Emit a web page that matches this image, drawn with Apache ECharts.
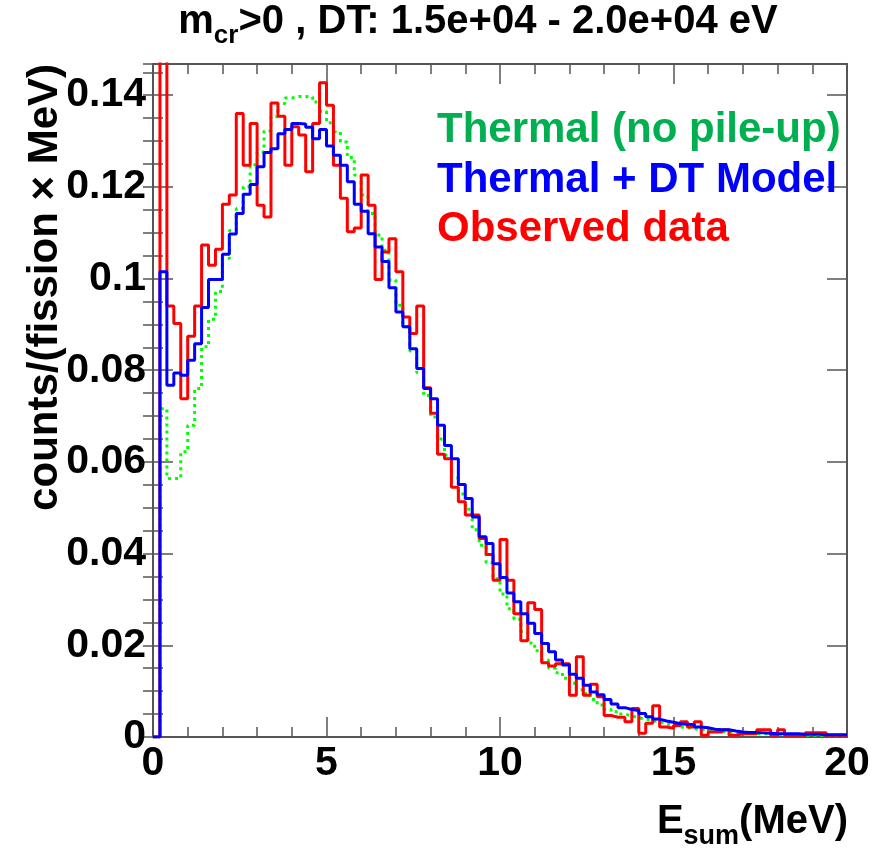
<!DOCTYPE html>
<html>
<head>
<meta charset="utf-8">
<script src="https://cdn.jsdelivr.net/npm/echarts@6/dist/echarts.min.js"></script>
<style>
html,body{margin:0;padding:0;background:#fff;}
#chart{width:878px;height:849px;}
</style>
</head>
<body>
<div id="chart"></div>
<script>
// Histogram: 100 bins of 0.2 MeV from 0 to 20 MeV
const binLowEdges = [
  0.0,0.2,0.4,0.6,0.8,1.0,1.2,1.4,1.6,1.8,2.0,2.2,2.4,2.6,2.8,3.0,3.2,3.4,3.6,3.8,
  4.0,4.2,4.4,4.6,4.8,5.0,5.2,5.4,5.6,5.8,6.0,6.2,6.4,6.6,6.8,7.0,7.2,7.4,7.6,7.8,
  8.0,8.2,8.4,8.6,8.8,9.0,9.2,9.4,9.6,9.8,10.0,10.2,10.4,10.6,10.8,11.0,11.2,11.4,11.6,11.8,
  12.0,12.2,12.4,12.6,12.8,13.0,13.2,13.4,13.6,13.8,14.0,14.2,14.4,14.6,14.8,15.0,15.2,15.4,15.6,15.8,
  16.0,16.2,16.4,16.6,16.8,17.0,17.2,17.4,17.6,17.8,18.0,18.2,18.4,18.6,18.8,19.0,19.2,19.4,19.6,19.8
];
const lastEdge = 20.0;

// Thermal (no pile-up)
const thermal = [
  0, 0.0716, 0.0564, 0.0564, 0.0622, 0.0680, 0.0760, 0.0851, 0.0911, 0.0972,
  0.1044, 0.1105, 0.1153, 0.1200, 0.1248, 0.1276, 0.1322, 0.1353, 0.1382, 0.1394,
  0.1397, 0.1397, 0.1396, 0.1385, 0.1365, 0.1340, 0.1320, 0.1298, 0.1264, 0.1226,
  0.1182, 0.1142, 0.1095, 0.1062, 0.0997, 0.0942, 0.0895, 0.0842, 0.0795, 0.0745,
  0.0698, 0.0650, 0.0615, 0.0565, 0.0530, 0.0497, 0.0452, 0.0418, 0.0380, 0.0345,
  0.0312, 0.0280, 0.0257, 0.0230, 0.0205, 0.0188, 0.0168, 0.0150, 0.0140, 0.0128,
  0.0117, 0.0103, 0.0095, 0.0082, 0.0070, 0.0060, 0.0055, 0.0050, 0.0046, 0.0042,
  0.0039, 0.0036, 0.0033, 0.0029, 0.0025, 0.0022, 0.0020, 0.0018, 0.0016, 0.0014,
  0.0013, 0.0012, 0.0011, 0.0010, 0.0009, 0.0008, 0.0007, 0.0007, 0.0006, 0.0006,
  0.0005, 0.0005, 0.0005, 0.0004, 0.0004, 0.0004, 0.0003, 0.0003, 0.0003, 0.0003
];

// Thermal + DT Model
const model = [
  0, 0.1015, 0.0767, 0.0794, 0.0789, 0.0822, 0.0858, 0.0937, 0.0998, 0.0998,
  0.1053, 0.1097, 0.1142, 0.1184, 0.1205, 0.1244, 0.1275, 0.1283, 0.1316, 0.1325,
  0.1338, 0.1337, 0.1330, 0.1305, 0.1325, 0.1289, 0.1269, 0.1247, 0.1211, 0.1162,
  0.1147, 0.1098, 0.1069, 0.1037, 0.0980, 0.0927, 0.0895, 0.0847, 0.0804, 0.0760,
  0.0738, 0.0680, 0.0636, 0.0607, 0.0551, 0.0520, 0.0480, 0.0437, 0.0422, 0.0378,
  0.0348, 0.0314, 0.0295, 0.0269, 0.0248, 0.0226, 0.0204, 0.0186, 0.0168, 0.0157,
  0.0137, 0.0128, 0.0113, 0.0098, 0.0092, 0.0082, 0.0072, 0.0064, 0.0060, 0.0058,
  0.0051, 0.0044, 0.0039, 0.0035, 0.0032, 0.0029, 0.0028, 0.0027, 0.0022, 0.0020,
  0.0017, 0.0016, 0.0016, 0.0013, 0.0011, 0.0010, 0.0010, 0.0009, 0.0008, 0.0007,
  0.0007, 0.0007, 0.0007, 0.0006, 0.0006, 0.0006, 0.0005, 0.0005, 0.0005, 0.0005
];

// Observed data
const observed = [
  0, 0.2000, 0.0940, 0.0902, 0.0738, 0.0874, 0.0940, 0.1073, 0.1029, 0.1064,
  0.1162, 0.1182, 0.1360, 0.1247, 0.1338, 0.1160, 0.1134, 0.1383, 0.1354, 0.1247,
  0.1331, 0.1313, 0.1233, 0.1338, 0.1427, 0.1378, 0.1247, 0.1175, 0.1102, 0.1110,
  0.1226, 0.1160, 0.0998, 0.1058, 0.1087, 0.1015, 0.0916, 0.0880, 0.0940, 0.0762,
  0.0706, 0.0617, 0.0607, 0.0545, 0.0513, 0.0484, 0.0484, 0.0433, 0.0398, 0.0342,
  0.0431, 0.0342, 0.0269, 0.0210, 0.0293, 0.0278, 0.0162, 0.0155, 0.0160, 0.0160,
  0.0091, 0.0175, 0.0091, 0.0115, 0.0088, 0.0047, 0.0043, 0.0043, 0.0033, 0.0062,
  0.0008, 0.0030, 0.0068, 0.0022, 0.0019, 0.0025, 0.0033, 0.0022, 0.0033, 0.0004,
  0.0011, 0.0011, 0.0016, 0.0004, 0.0007, 0.0007, 0.0007, 0.0016, 0.0016, 0.0004,
  0.0016, 0.0004, 0.0004, 0.0004, 0.0009, 0.0009, 0.0009, 0.0004, 0.0004, 0.0004
];

const xTicks = [0, 5, 10, 15, 20];
const yTicks = [0, 0.02, 0.04, 0.06, 0.08, 0.1, 0.12, 0.14];

const titleMain = ">0 , DT: 1.5e+04 - 2.0e+04 eV";
const yTitle = "counts/(fission \u00d7 MeV)";
const legendTexts = ["Thermal (no pile-up)", "Thermal + DT Model", "Observed data"];

function histPoints(vals) {
  const pts = binLowEdges.map((e, i) => [e, vals[i]]);
  pts.push([lastEdge, vals[vals.length - 1]]);
  return pts;
}

const FONT = "'Liberation Sans', Arial, Helvetica, sans-serif";
const FRAME = '#555555';
const YMAX = 0.1468;

const chart = echarts.init(document.getElementById('chart'), null, {renderer: 'canvas'});

const baseX = {
  type: 'value', min: 0, max: 20, interval: 5,
  axisLine: {show: true, onZero: false, lineStyle: {color: FRAME, width: 2}},
  splitLine: {show: false}
};
const baseY = {
  type: 'value', min: 0, max: YMAX,
  axisLine: {show: true, onZero: false, lineStyle: {color: FRAME, width: 2}},
  splitLine: {show: false}
};

const option = {
  animation: false,
  backgroundColor: '#ffffff',
  grid: {left: 153, right: 31, top: 64, bottom: 112, containLabel: false},
  xAxis: [
    Object.assign({}, baseX, {
      position: 'bottom',
      axisTick: {show: true, inside: true, length: 20, lineStyle: {color: FRAME, width: 1.5}},
      minorTick: {show: true, splitNumber: 5, length: 10, lineStyle: {color: FRAME, width: 1.5}},
      axisLabel: {show: true, margin: 6, color: '#000', fontSize: 41, fontWeight: 'bold', fontFamily: FONT,
        formatter: v => (xTicks.indexOf(v) >= 0 ? String(v) : '')}
    }),
    Object.assign({}, baseX, {
      position: 'top',
      axisTick: {show: true, inside: true, length: 20, lineStyle: {color: FRAME, width: 1.5}},
      minorTick: {show: true, splitNumber: 5, length: 10, lineStyle: {color: FRAME, width: 1.5}},
      axisLabel: {show: false}
    })
  ],
  yAxis: [
    Object.assign({}, baseY, {
      position: 'left', interval: 0.02,
      axisTick: {show: true, inside: true, length: 20, lineStyle: {color: FRAME, width: 1.5}},
      axisLabel: {show: true, margin: 7, color: '#000', fontSize: 41, fontWeight: 'bold', fontFamily: FONT,
        showMaxLabel: false,
        formatter: v => {
          const r = Math.round(v * 100) / 100;
          return yTicks.indexOf(r) >= 0 && Math.abs(v - r) < 1e-6 ? String(r) : '';
        }}
    }),
    Object.assign({}, baseY, {
      position: 'left', interval: 0.005,
      axisLine: {show: false},
      axisTick: {show: true, inside: true, length: 10, lineStyle: {color: FRAME, width: 1.5}},
      axisLabel: {show: false}
    }),
    Object.assign({}, baseY, {
      position: 'right', interval: 0.02,
      axisTick: {show: true, inside: true, length: 20, lineStyle: {color: FRAME, width: 1.5}},
      axisLabel: {show: false}
    }),
    Object.assign({}, baseY, {
      position: 'right', interval: 0.005,
      axisLine: {show: false},
      axisTick: {show: true, inside: true, length: 10, lineStyle: {color: FRAME, width: 1.5}},
      axisLabel: {show: false}
    })
  ],
  series: [
    {
      name: legendTexts[0], type: 'line', step: 'end', xAxisIndex: 0, yAxisIndex: 0,
      data: histPoints(thermal), symbol: 'none', clip: true, z: 3,
      lineStyle: {color: '#00ff00', width: 3, type: [3, 4]}
    },
    {
      name: legendTexts[2], type: 'line', step: 'end', xAxisIndex: 0, yAxisIndex: 0,
      data: histPoints(observed), symbol: 'none', clip: true, z: 4,
      lineStyle: {color: '#ff0000', width: 3}
    },
    {
      name: legendTexts[1], type: 'line', step: 'end', xAxisIndex: 0, yAxisIndex: 0,
      data: histPoints(model), symbol: 'none', clip: true, z: 5,
      lineStyle: {color: '#0000ff', width: 3}
    }
  ],
  graphic: [
    {
      type: 'text', x: 478, y: 22, z: 100,
      style: {
        text: '{a|m}{s|cr}{a|' + titleMain + '}',
        align: 'center', verticalAlign: 'middle',
        rich: {
          a: {fontSize: 40, fontWeight: 'bold', fontFamily: FONT, fill: '#000', lineHeight: 48, verticalAlign: 'middle'},
          s: {fontSize: 26, fontWeight: 'bold', fontFamily: FONT, fill: '#000', lineHeight: 54, verticalAlign: 'bottom'}
        }
      }
    },
    {
      type: 'text', x: 848, y: 822, z: 100,
      style: {
        text: '{a|E}{s|sum}{a|(MeV)}',
        align: 'right', verticalAlign: 'middle',
        rich: {
          a: {fontSize: 40, fontWeight: 'bold', fontFamily: FONT, fill: '#000', lineHeight: 48, verticalAlign: 'middle'},
          s: {fontSize: 27, fontWeight: 'bold', fontFamily: FONT, fill: '#000', lineHeight: 56, verticalAlign: 'bottom'}
        }
      }
    },
    {
      type: 'text', x: 45, y: 64, rotation: Math.PI / 2, z: 100,
      style: {
        text: yTitle, align: 'right', verticalAlign: 'middle',
        fontSize: 42, fontWeight: 'bold', fontFamily: FONT, fill: '#000'
      }
    },
    {
      type: 'text', x: 437, y: 130, z: 100,
      style: {text: legendTexts[0], align: 'left', verticalAlign: 'middle',
        fontSize: 42, fontWeight: 'bold', fontFamily: FONT, fill: '#00b050'}
    },
    {
      type: 'text', x: 437, y: 180, z: 100,
      style: {text: legendTexts[1], align: 'left', verticalAlign: 'middle',
        fontSize: 42, fontWeight: 'bold', fontFamily: FONT, fill: '#0000ff'}
    },
    {
      type: 'text', x: 437, y: 229, z: 100,
      style: {text: legendTexts[2], align: 'left', verticalAlign: 'middle',
        fontSize: 42, fontWeight: 'bold', fontFamily: FONT, fill: '#ff0000'}
    }
  ]
};

chart.setOption(option);
</script>
</body>
</html>
